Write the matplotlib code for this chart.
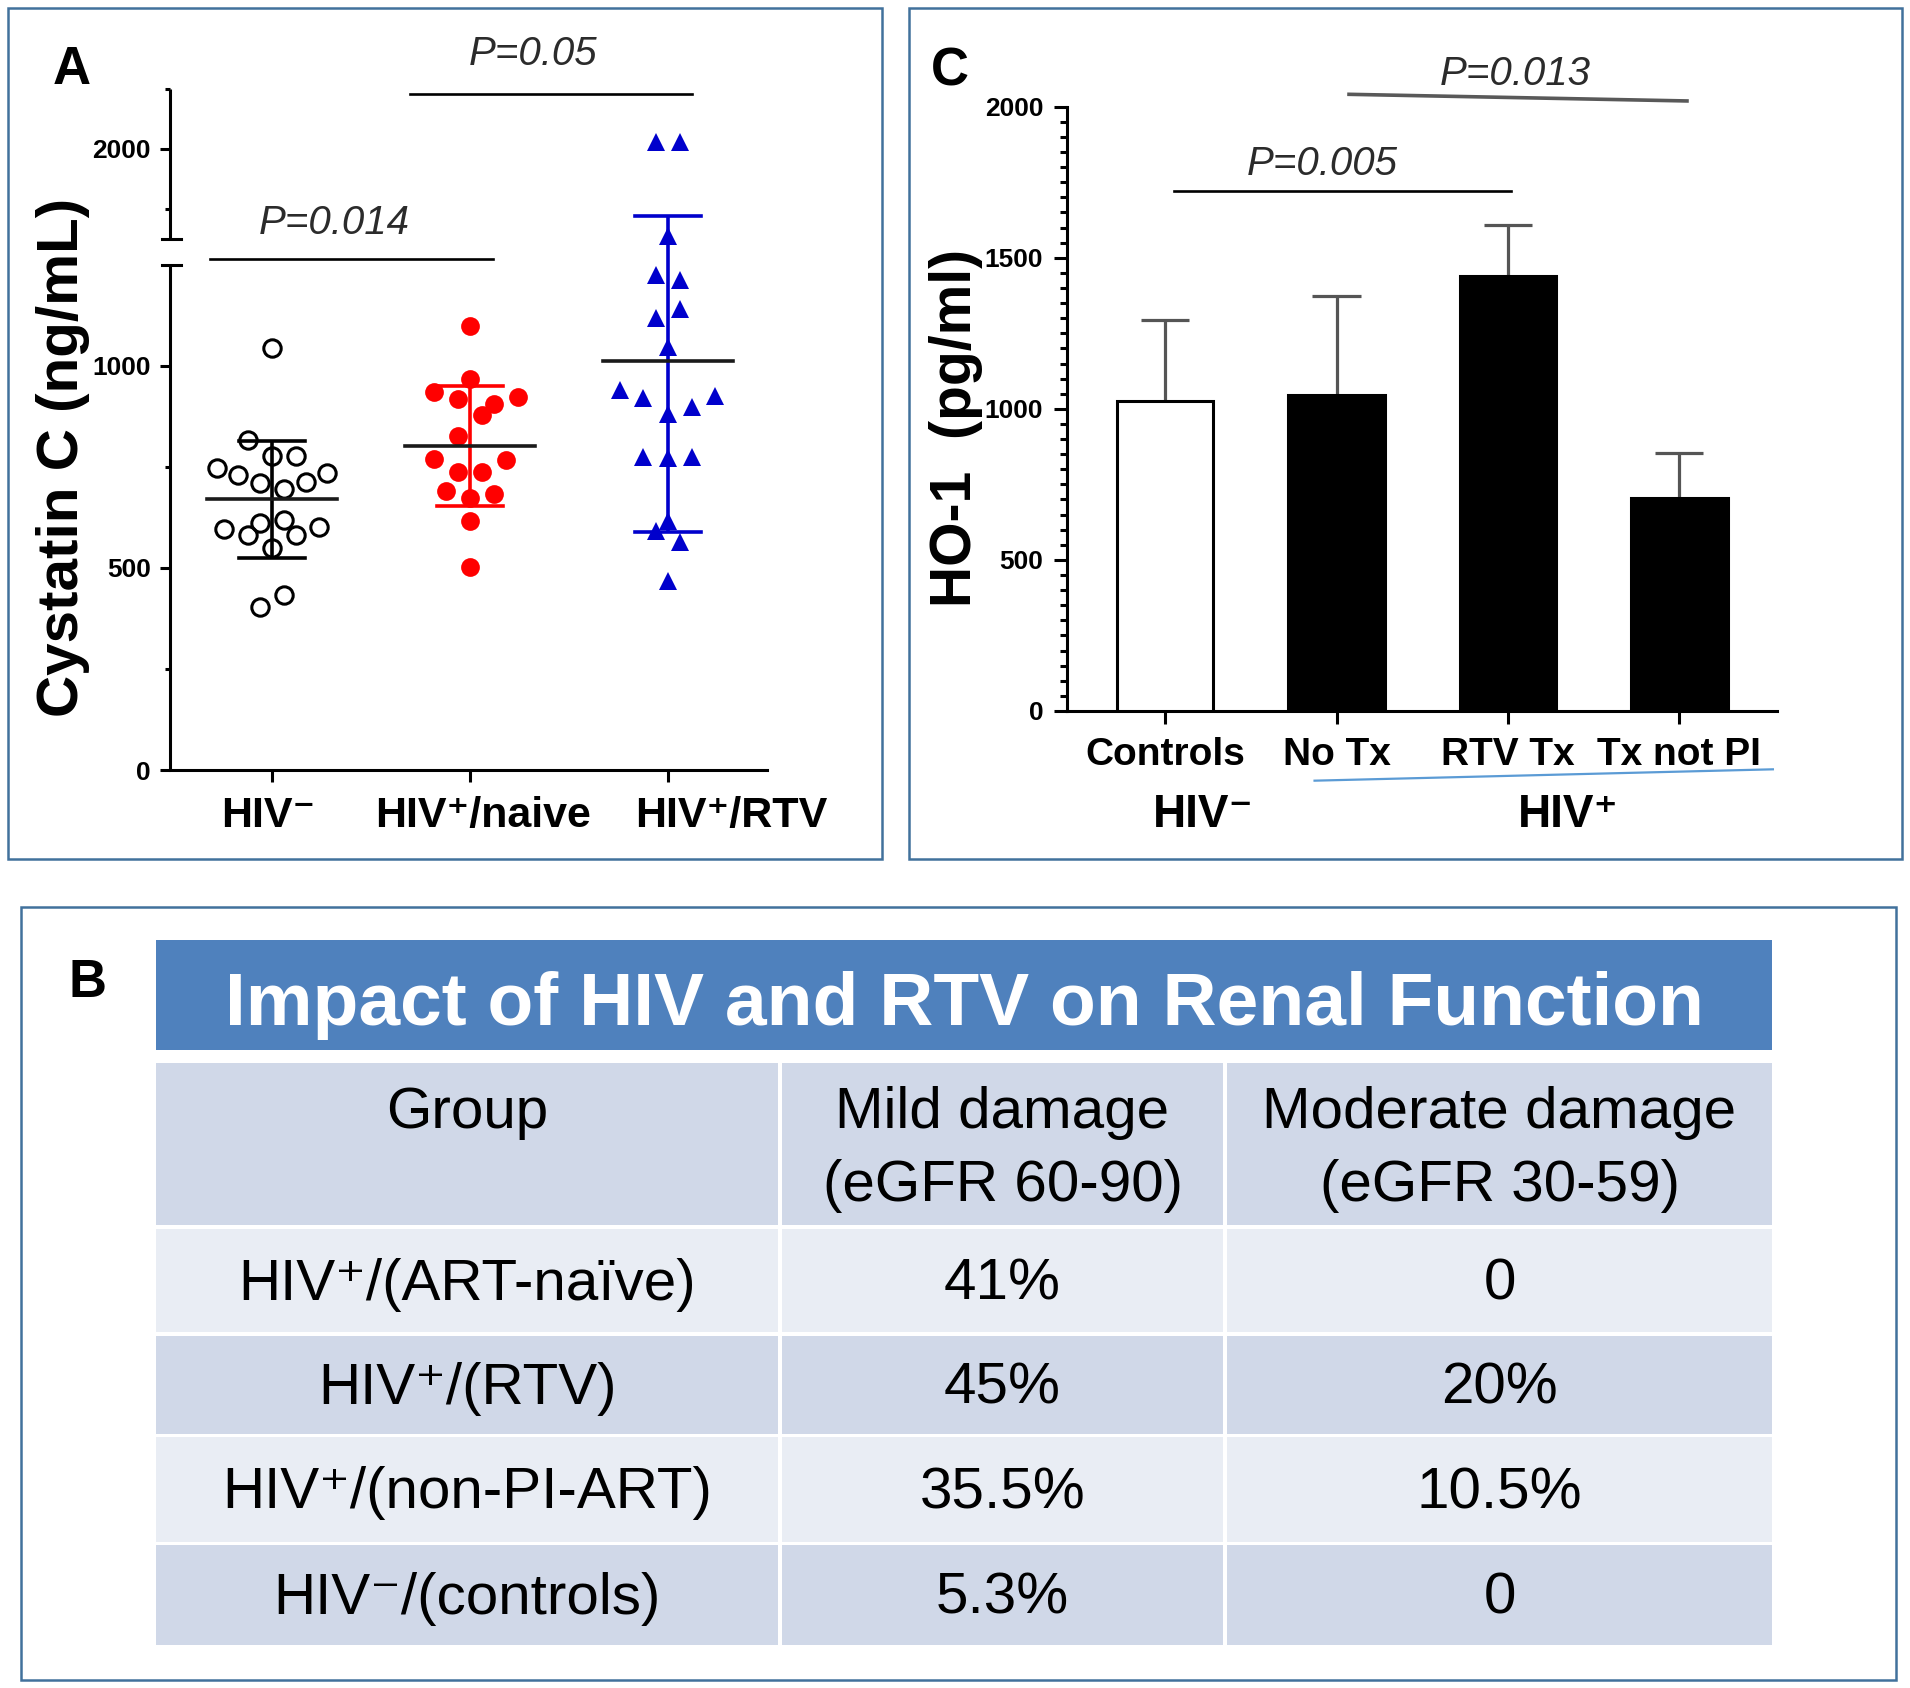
import numpy as np
import matplotlib
matplotlib.use("Agg")
import matplotlib.pyplot as plt
from matplotlib.patches import Rectangle
from matplotlib.transforms import blended_transform_factory as blend
from matplotlib.ticker import FixedLocator, MultipleLocator, NullFormatter

plt.rcParams['font.family'] = ['Liberation Sans', 'DejaVu Sans']

# ---------------- data: panel A (Cystatin C, ng/mL) ----------------
groups_a = ["HIV\u207B", "HIV\u207A/naive", "HIV\u207A/RTV"]
hiv_neg_vals = [1044, 817, 777, 777, 747, 730, 735, 711, 695, 712,
                596, 582, 611, 619, 582, 601, 549, 404, 433]
hiv_neg_dx = [0, -0.12, 0, 0.12, -0.28, -0.17, 0.28, -0.06, 0.06, 0.17,
              -0.24, -0.12, -0.06, 0.06, 0.12, 0.24, 0, -0.06, 0.06]
naive_vals = [1097, 968, 936, 917, 906, 922, 877, 827, 769, 767,
              738, 736, 691, 672, 683, 617, 503]
naive_dx = [0, 0, -0.18, -0.06, 0.12, 0.24, 0.06, -0.06, -0.18, 0.18,
            -0.06, 0.06, -0.12, 0, 0.12, 0, 0]
rtv_vals = [2056, 2056, 1269, 1225, 1213, 1118, 1141, 1046, 940, 920,
            926, 897, 881, 774, 771, 775, 615, 592, 564, 468]
rtv_dx = [-0.06, 0.06, 0, -0.06, 0.06, -0.06, 0.06, 0, -0.24, -0.125,
          0.235, 0.12, 0, -0.125, 0, 0.12, 0, -0.06, 0.06, 0]
pvals_a = [(0, 1, "P=0.014"), (1, 2, "P=0.05")]

# ---------------- data: panel C (HO-1, pg/ml) ----------------
groups_c = ["Controls", "No Tx", "RTV Tx", "Tx not PI"]
ho1_mean = [1025, 1045, 1440, 705]
ho1_err = [270, 330, 170, 150]
pvals_c = [(0, 2, "P=0.005"), (1, 3, "P=0.013")]

# ---------------- data: panel B (table) ----------------
table_title = "Impact of HIV and RTV on Renal Function"
table_header = [["Group"], ["Mild damage", "(eGFR 60-90)"],
                ["Moderate damage", "(eGFR 30-59)"]]
table_groups = ["HIV\u207A/(ART-na\u00efve)", "HIV\u207A/(RTV)",
                "HIV\u207A/(non-PI-ART)", "HIV\u207B/(controls)"]
table_mild = ["41%", "45%", "35.5%", "5.3%"]
table_moderate = ["0", "20%", "10.5%", "0"]

# ---------------- figure ----------------
W, H = 1910, 1688
fig = plt.figure(figsize=(W / 100, H / 100), dpi=100)


def px_rect(x0, y0, x1, y1):
    return [x0 / W, 1 - y1 / H, (x1 - x0) / W, (y1 - y0) / H]


bg = fig.add_axes([0, 0, 1, 1])
bg.set_xlim(0, W)
bg.set_ylim(H, 0)
bg.axis('off')

FRAME = '#41719c'
for (x0, y0, x1, y1) in [(8, 8, 882, 859), (909, 8, 1902, 859), (21, 907, 1896, 1680)]:
    bg.add_patch(Rectangle((x0, y0), x1 - x0, y1 - y0, fill=False, ec=FRAME, lw=1.8))

bg.text(72, 84, "A", fontsize=38, fontweight='bold', ha='center', va='baseline')
bg.text(950, 86, "C", fontsize=38, fontweight='bold', ha='center', va='baseline')
bg.text(87, 997, "B", fontsize=38, fontweight='bold', ha='center', va='baseline')

# ================= Panel A =================
BRK, GAP, RATIO = 1250.0, 64.4, 0.297


def fwd(y):
    y = np.asarray(y, dtype=float)
    return np.where(y <= BRK, y, BRK + GAP + (y - BRK) * RATIO)


def inv(t):
    t = np.asarray(t, dtype=float)
    return np.where(t <= BRK, t,
                    np.where(t < BRK + GAP, BRK, BRK + (t - BRK - GAP) / RATIO))


axA = fig.add_axes(px_rect(170, 88.5, 767, 770))
axA.patch.set_visible(False)
axA.set_yscale('function', functions=(fwd, inv))
axA.set_ylim(0, 2500)
axA.set_xlim(-0.515, 2.5)
for s in ['top', 'right', 'left']:
    axA.spines[s].set_visible(False)
axA.spines['bottom'].set_linewidth(2.2)

LW_AX = 2.2
yb = blend(axA.transAxes, axA.transData)
axA.plot([0, 0], [0, BRK], color='black', lw=LW_AX, transform=yb, clip_on=False,
         solid_capstyle='butt')
axA.plot([0, 0], [BRK + 0.001, 2500], color='black', lw=LW_AX, transform=yb,
         clip_on=False, solid_capstyle='butt')
for yv in [BRK, BRK + 0.001]:
    axA.plot([-0.0134, 0.0184], [yv, yv], color='black', lw=LW_AX, transform=yb,
             clip_on=False)

axA.yaxis.set_major_locator(FixedLocator([0, 500, 1000, 2000]))
axA.yaxis.set_minor_locator(FixedLocator([250, 750, 1500, 2500]))
axA.yaxis.set_minor_formatter(NullFormatter())
axA.set_yticklabels(['0', '500', '1000', '2000'])
axA.tick_params(axis='y', which='major', length=7.2, width=LW_AX, pad=6.5,
                labelsize=19)
axA.tick_params(axis='y', which='minor', length=3.6, width=LW_AX)
axA.set_xticks([0, 1, 2])
axA.set_xticklabels([])
axA.tick_params(axis='x', length=8.6, width=LW_AX)
for lab in axA.get_yticklabels():
    lab.set_fontweight('bold')

styles = [dict(marker='o', mfc='none', mec='black', mew=2.2, ms=12.5, color='black'),
          dict(marker='o', mfc='#ff0000', mec='#ff0000', mew=0, ms=13.5, color='#ff0000'),
          dict(marker='^', mfc='#0000cc', mec='#0000cc', mew=0, ms=12.5, color='#0000cc')]
for i, (vals, dx, st) in enumerate([(hiv_neg_vals, hiv_neg_dx, styles[0]),
                                    (naive_vals, naive_dx, styles[1]),
                                    (rtv_vals, rtv_dx, styles[2])]):
    v = np.array(vals, dtype=float)
    axA.plot(i + np.array(dx), v, ls='none', marker=st['marker'], mfc=st['mfc'],
             mec=st['mec'], mew=st['mew'], ms=st['ms'], zorder=2, clip_on=False)
    m, sd = v.mean(), v.std(ddof=1)
    axA.plot([i, i], [m - sd, m + sd], color=st['color'], lw=2.6, zorder=3,
             solid_capstyle='butt')
    for yv in [m - sd, m + sd]:
        axA.plot([i - 0.165, i + 0.165], [yv, yv], color=st['color'], lw=2.6, zorder=3)
    axA.plot([i - 0.33, i + 0.33], [m, m], color='#1a1a1a', lw=2.6, zorder=4)

# category labels (A)
xa = blend(axA.transData, axA.transAxes)
label_shift_a = [-0.02, 0.065, 0.32]
for i, g in enumerate(groups_a):
    axA.text(i + label_shift_a[i], -0.0836, g, transform=xa, ha='center', va='baseline',
             fontsize=31, fontweight='bold')

axA.text(-0.1535, 0.458, "Cystatin C (ng/mL)", transform=axA.transAxes, rotation=90,
         rotation_mode='anchor', ha='center', va='baseline', fontsize=42,
         fontweight='bold')

# significance bars (A)
sig_a_style = [dict(dx0=-0.313, dx1=0.116, y=0.7498, tx=0.313, ty=0.7865),
               dict(dx0=-0.303, dx1=0.121, y=0.992, tx=1.318, ty=1.0338)]
for (g0, g1, txt), st in zip(pvals_a, sig_a_style):
    x0, x1 = g0 + st['dx0'], g1 + st['dx1']
    axA.plot([x0, x1], [st['y'], st['y']], color='black', lw=1.9, transform=xa,
             clip_on=False)
    axA.text(st['tx'], st['ty'], txt, transform=xa, ha='center', va='baseline',
             fontsize=29, fontstyle='italic', color='#2b2b2b')

# ================= Panel C =================
axC = fig.add_axes(px_rect(1067.3, 106.7, 1777, 711))
axC.patch.set_visible(False)
axC.set_ylim(0, 2000)
axC.set_xlim(-0.570, 3.569)
for s in ['top', 'right']:
    axC.spines[s].set_visible(False)
for s in ['left', 'bottom']:
    axC.spines[s].set_linewidth(LW_AX)

xc = np.arange(len(groups_c))
bar_colors = ['white', 'black', 'black', 'black']
axC.bar(xc, ho1_mean, width=0.565, color=bar_colors, edgecolor='black',
        linewidth=2.2, zorder=3)
top = np.array(ho1_mean) + np.array(ho1_err)
axC.vlines(xc, ho1_mean, top, color='#555555', lw=2.3, zorder=2)
axC.hlines(top, xc - 0.14, xc + 0.14, color='#555555', lw=2.3, zorder=2)

axC.yaxis.set_major_locator(FixedLocator([0, 500, 1000, 1500, 2000]))
axC.yaxis.set_minor_locator(MultipleLocator(50))
axC.yaxis.set_minor_formatter(NullFormatter())
axC.tick_params(axis='y', which='major', length=9.4, width=LW_AX, pad=8,
                labelsize=19)
axC.tick_params(axis='y', which='minor', length=5, width=LW_AX)
for lab in axC.get_yticklabels():
    lab.set_fontweight('bold')
axC.set_xticks(xc)
axC.set_xticklabels([])
axC.tick_params(axis='x', length=9, width=LW_AX)

xcb = blend(axC.transData, axC.transAxes)
for i, g in enumerate(groups_c):
    axC.text(i, -0.0894, g, transform=xcb, ha='center', va='baseline', fontsize=28,
             fontweight='bold')
axC.text(0.222, -0.1915, "HIV\u207B", transform=xcb, ha='center', va='baseline',
         fontsize=33, fontweight='bold')
axC.text(2.35, -0.1915, "HIV\u207A", transform=xcb, ha='center', va='baseline',
         fontsize=33, fontweight='bold')
axC.plot([0.872, 3.545], [-0.1153, -0.0965], transform=xcb, color='#5b9bd5', lw=1.6,
         clip_on=False)

axC.text(-0.1357, 0.469, "HO-1  (pg/ml)", transform=axC.transAxes, rotation=90,
         rotation_mode='anchor', ha='center', va='baseline', fontsize=41,
         fontweight='bold')

sig_c_style = [dict(dx0=0.051, dx1=0.015, y0=1720, y1=1720, tx=0.915, ty=1774,
                    c='black', lw=1.9),
               dict(dx0=0.073, dx1=0.044, y0=2041, y1=2019, tx=2.041, ty=2073,
                    c='#595959', lw=2.6)]
for (g0, g1, txt), st in zip(pvals_c, sig_c_style):
    x0, x1 = g0 + st['dx0'], g1 + st['dx1']
    axC.plot([x0, x1], [st['y0'], st['y1']], color=st['c'], lw=st['lw'], clip_on=False)
    axC.text(st['tx'], st['ty'], txt, ha='center', va='baseline', fontsize=29,
             fontstyle='italic', color='#2b2b2b', clip_on=False)

# ================= Panel B (table) =================
TITLE_BLUE = '#4f81bd'
ROW_DARK = '#d0d8e8'
ROW_LIGHT = '#e9edf4'
col_edges = [(156, 778), (782, 1223), (1227, 1772)]
row_edges = [(1063, 1225), (1229, 1332), (1336, 1434), (1437, 1542), (1545, 1645)]
row_colors = [ROW_DARK, ROW_LIGHT, ROW_DARK, ROW_LIGHT, ROW_DARK]

bg.add_patch(Rectangle((156, 940), 1772 - 156, 1050 - 940, color=TITLE_BLUE, lw=0))
bg.text((156 + 1772) / 2, 1025, table_title, ha='center', va='baseline', fontsize=54,
        fontweight='bold', color='white')

for (y0, y1), rc in zip(row_edges, row_colors):
    for (x0, x1) in col_edges:
        bg.add_patch(Rectangle((x0, y0), x1 - x0, y1 - y0, color=rc, lw=0))

col_cx = [(a + b) / 2 for a, b in col_edges]
for cx, lines in zip(col_cx, table_header):
    for k, ln in enumerate(lines):
        bg.text(cx, 1128 + 73 * k, ln, ha='center', va='baseline', fontsize=42)

body = list(zip(table_groups, table_mild, table_moderate))
for (y0, y1), cells in zip(row_edges[1:], body):
    yb_ = (y0 + y1) / 2 + 19
    for cx, txt in zip(col_cx, cells):
        bg.text(cx, yb_, txt, ha='center', va='baseline', fontsize=42)

fig.savefig("out.png", dpi=100)
